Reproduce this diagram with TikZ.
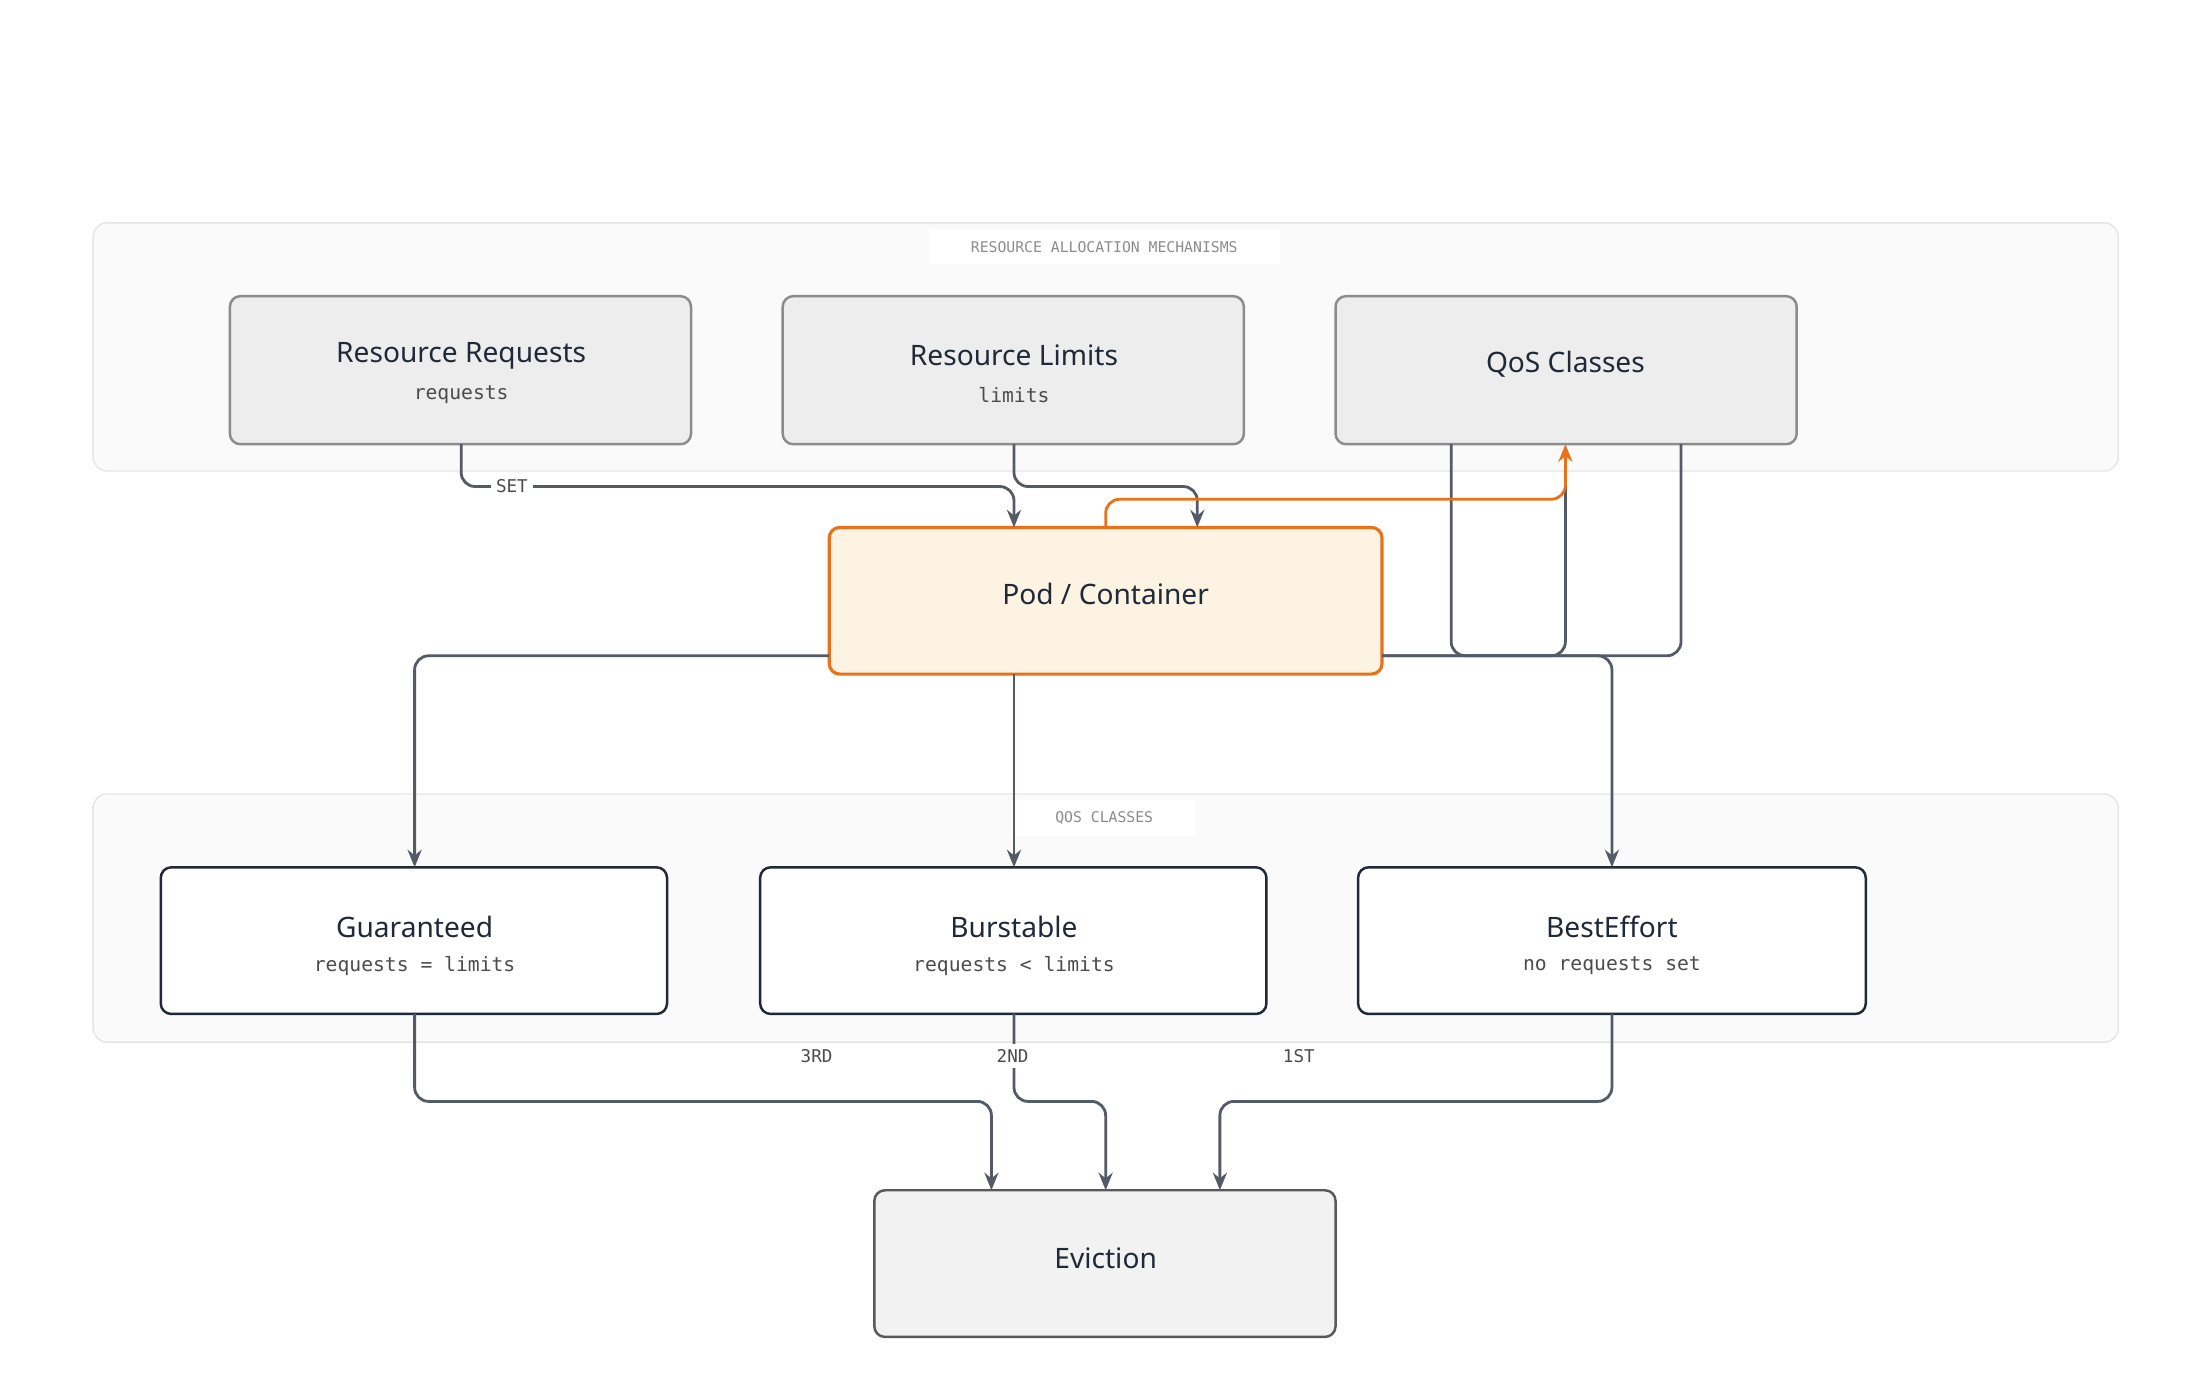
\documentclass[tikz,border=0pt]{standalone}
\usepackage{fontspec}
\setmainfont{Noto Sans}
\setmonofont{DejaVu Sans Mono}
\usetikzlibrary{arrows.meta}
\definecolor{ink}{RGB}{31,41,55}
\definecolor{wire}{RGB}{85,91,102}
\definecolor{ocre}{RGB}{232,113,26}
\definecolor{pale}{RGB}{253,243,227}
\begin{document}
\begin{tikzpicture}[x=0.0141cm,y=-0.0141cm,
  group/.style={draw=black!10,fill=black!2,rounded corners=4pt},
  glabel/.style={fill=white,font=\ttfamily\fontsize{4.2}{5}\selectfont,text=black!45,inner xsep=12pt},
  mech/.style={draw=black!45,fill=black!7,rounded corners=3pt,line width=0.7pt},
  qos/.style={draw=ink,fill=white,rounded corners=3pt,line width=0.7pt},
  ttl/.style={font=\bfseries\fontsize{8}{10}\selectfont,text=ink},
  sub/.style={font=\ttfamily\fontsize{5.6}{7}\selectfont,text=black!70},
  tag/.style={font=\ttfamily\fontsize{5}{6}\selectfont,text=black!70,fill=white,inner sep=1.5pt},
  wire/.style={draw=wire,line width=0.8pt,rounded corners=4pt},
  arr/.style={wire,-{Stealth[length=5pt,width=4pt]}}]
\useasboundingbox (0,0) rectangle (1560,977);

% groups
\draw [group] (66,158) rectangle (1502,334);
\node [glabel] (g1) at (783,175) {RESOURCE ALLOCATION MECHANISMS};
\draw [group] (66,563) rectangle (1502,739);
\node [glabel] (g2) at (783,580) {QOS CLASSES};

% boxes
\draw [mech] (163,210) rectangle (490,315);
\node [ttl] (req) at (327,252) {Resource Requests};
\node [sub] (reqs) at (327,280) {requests};
\draw [mech] (555,210) rectangle (882,315);
\node [ttl] (lim) at (719,252) {Resource Limits};
\node [sub] (lims) at (719,280) {limits};
\draw [mech] (947,210) rectangle (1274,315);
\node [ttl] (qc) at (1110,258) {QoS Classes};

\draw [draw=ocre,fill=pale,rounded corners=3pt,line width=0.9pt] (588,374) rectangle (980,478);
\node [ttl] (pod) at (784,421) {Pod / Container};

\draw [qos] (114,615) rectangle (473,719);
\node [ttl] (gua) at (294,657) {Guaranteed};
\node [sub] at (294,685) {requests = limits};
\draw [qos] (539,615) rectangle (898,719);
\node [ttl] (bur) at (719,657) {Burstable};
\node [sub] at (719,685) {requests < limits};
\draw [qos] (963,615) rectangle (1323,719);
\node [ttl] (bes) at (1143,657) {BestEffort};
\node [sub] at (1143,685) {no requests set};

\draw [draw=black!65,fill=black!5,rounded corners=3pt,line width=0.7pt] (620,844) rectangle (947,948);
\node [ttl] (evi) at (784,892) {Eviction};

% connectors
\draw [arr] (327,315) -- (327,345) -- (719,345) -- (719,374);
\node [tag] at (363,345) {SET};
\draw [arr] (719,315) -- (719,345) -- (849,345) -- (849,374);
\draw [wire] (1029,315) -- (1029,465) -- (1110,465) -- (1110,330);
\draw [wire] (1192,315) -- (1192,465) -- (980,465);
\draw [wire,draw=ocre,-{Stealth[length=5pt,width=4pt]}] (784,374) -- (784,354) -- (1110,354) -- (1110,315);
\draw [arr] (588,465) -- (294,465) -- (294,615);
\draw [arr] (719,478) -- (719,615);
\draw [arr] (980,465) -- (1143,465) -- (1143,615);

\draw [arr] (294,719) -- (294,781) -- (703,781) -- (703,844);
\draw [arr] (719,719) -- (719,781) -- (784,781) -- (784,844);
\draw [arr] (1143,719) -- (1143,781) -- (865,781) -- (865,844);
\node [tag] at (579,749) {3RD};
\node [tag] at (718,749) {2ND};
\node [tag] at (921,749) {1ST};
\end{tikzpicture}
\end{document}
